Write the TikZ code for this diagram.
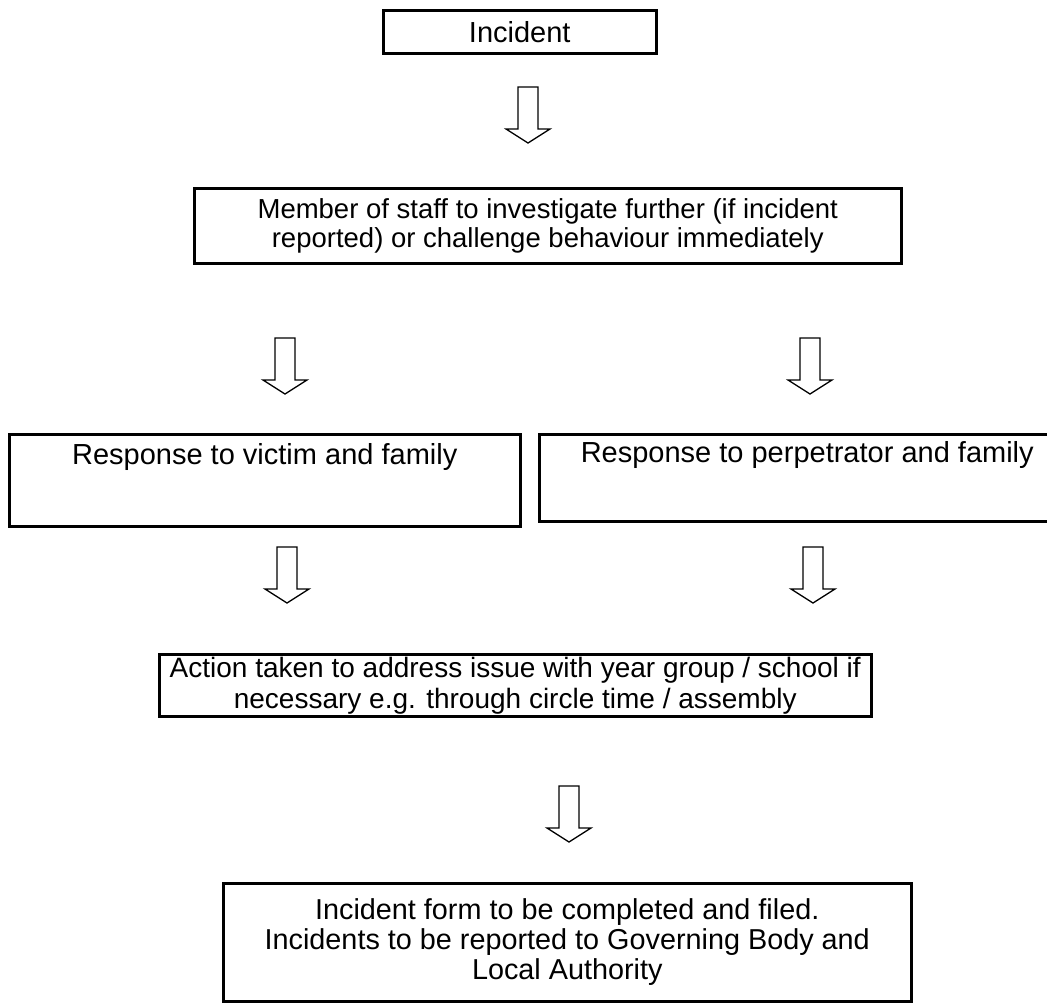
\documentclass[tikz,border=0pt]{standalone}
\usepackage{fontspec}
\setmainfont{Liberation Sans}
\usetikzlibrary{positioning,calc}

% outline arrow pointing down, from top point #1 to tip #2
\newcommand{\hollowarrow}[2]{%
  \draw[hollow] ($(#1)+(-10,0)$) -- ($(#2)+(-10,-14)$) -- ($(#2)+(-22,-14)$) -- (#2)
    -- ($(#2)+(22,-14)$) -- ($(#2)+(10,-14)$) -- ($(#1)+(10,0)$) -- cycle;}

\begin{document}
\begin{tikzpicture}[
    x=1pt, y=-1pt,
    flowbox/.style={rectangle, draw, line width=2.5pt, inner sep=0pt, anchor=north west, align=center},
    hollow/.style={draw, line width=1.3pt, line join=miter}
]
    \useasboundingbox (0,0) rectangle (1047,1002);
    \clip (0,0) rectangle (1047,1002);

    \node[flowbox, minimum width=273pt, minimum height=43pt, font=\fontsize{29}{33}\selectfont]
        (incident) at (382,9) {Incident};
    \node[flowbox, minimum width=707pt, minimum height=75pt, font=\fontsize{27.5}{29}\selectfont]
        (staff) at (193,187)
        {Member of staff to investigate further (if incident\\reported) or challenge behaviour immediately};
    \node[flowbox, minimum width=511pt, minimum height=92pt, font=\fontsize{29}{26}\selectfont]
        (victim) at (8,433) {Response to victim and family\\~\\~};
    \node[flowbox, minimum width=536pt, minimum height=87pt, font=\fontsize{29}{26}\selectfont]
        (perp) at (538,433) {Response to perpetrator and family\\~\\~};
    \node[flowbox, minimum width=712pt, minimum height=62pt, font=\fontsize{28}{31}\selectfont]
        (action) at (158,653)
        {Action taken to address issue with year group / school if\\necessary e.g. through circle time / assembly};
    \node[flowbox, minimum width=688pt, minimum height=118pt, font=\fontsize{28.8}{30}\selectfont]
        (form) at (222,882)
        {Incident form to be completed and filed.\\Incidents to be reported to Governing Body and\\Local Authority};

    \coordinate (a1s) at (528,87);  \coordinate (a1e) at (528,143);
    \coordinate (a2s) at (285,338); \coordinate (a2e) at (285,394);
    \coordinate (a3s) at (810,338); \coordinate (a3e) at (810,394);
    \coordinate (a4s) at (287,547); \coordinate (a4e) at (287,603);
    \coordinate (a5s) at (813,547); \coordinate (a5e) at (813,603);
    \coordinate (a6s) at (569,786); \coordinate (a6e) at (569,842);

    \hollowarrow{a1s}{a1e}
    \hollowarrow{a2s}{a2e}
    \hollowarrow{a3s}{a3e}
    \hollowarrow{a4s}{a4e}
    \hollowarrow{a5s}{a5e}
    \hollowarrow{a6s}{a6e}
\end{tikzpicture}
\end{document}
